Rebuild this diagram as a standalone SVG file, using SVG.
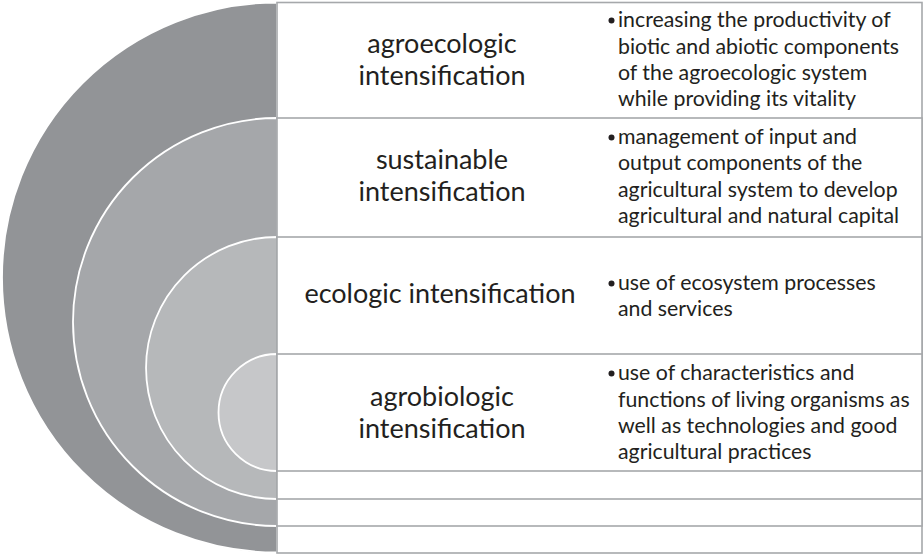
<svg xmlns="http://www.w3.org/2000/svg" width="924" height="556" viewBox="0 0 924 556">
<style>
.ring{stroke:#ffffff;stroke-width:1.8}
.box{fill:#ffffff;stroke:#a6a8ab;stroke-width:1.6}
.lbl{font-family:Lato,"Liberation Sans",sans-serif;font-size:27px;fill:#231f20;text-anchor:middle}
.desc{font-family:Lato,"Liberation Sans",sans-serif;font-size:21.3px;fill:#231f20}
.dot{fill:#231f20}
</style>
<rect width="924" height="556" fill="#ffffff"/>
<g id="rings">
<path class="ring" d="M277 2.5 A275 275 0 0 0 277 552.5 Z" fill="#929497"/>
<path class="ring" d="M277 118 A204 204 0 0 0 277 526 Z" fill="#a5a7aa"/>
<path class="ring" d="M277 237 A131 131 0 0 0 277 499 Z" fill="#b6b8ba"/>
<path class="ring" d="M277 354 A58.5 58.5 0 0 0 277 471 Z" fill="#c6c7c9"/>
</g>
<g id="node1">
<rect class="box" x="277" y="2.5" width="645" height="550.5"/>
<text class="lbl"><tspan x="442" y="53">agroecologic</tspan><tspan x="442" y="85">intensification</tspan></text>
<circle class="dot" cx="611.5" cy="20.5" r="3"/>
<text class="desc"><tspan x="618" y="27">increasing the productivity of</tspan><tspan x="618" y="53.5">biotic and abiotic components</tspan><tspan x="618" y="80">of the agroecologic system</tspan><tspan x="618" y="106">while providing its vitality</tspan></text>
</g>
<g id="node2">
<rect class="box" x="277" y="118" width="645" height="408"/>
<text class="lbl"><tspan x="442" y="169">sustainable</tspan><tspan x="442" y="201">intensification</tspan></text>
<circle class="dot" cx="611.5" cy="137.5" r="3"/>
<text class="desc"><tspan x="618" y="144">management of input and</tspan><tspan x="618" y="170">output components of the</tspan><tspan x="618" y="197">agricultural system to develop</tspan><tspan x="618" y="223">agricultural and natural capital</tspan></text>
</g>
<g id="node3">
<rect class="box" x="277" y="237" width="645" height="262"/>
<text class="lbl"><tspan x="440" y="303">ecologic intensification</tspan></text>
<circle class="dot" cx="611.5" cy="283.5" r="3"/>
<text class="desc"><tspan x="618" y="290">use of ecosystem processes</tspan><tspan x="618" y="316">and services</tspan></text>
</g>
<g id="node4">
<rect class="box" x="277" y="354" width="645" height="117"/>
<text class="lbl"><tspan x="442" y="406">agrobiologic</tspan><tspan x="442" y="438">intensification</tspan></text>
<circle class="dot" cx="611.5" cy="373.5" r="3"/>
<text class="desc"><tspan x="618" y="380">use of characteristics and</tspan><tspan x="618" y="407">functions of living organisms as</tspan><tspan x="618" y="433">well as technologies and good</tspan><tspan x="618" y="459">agricultural practices</tspan></text>
</g>
<g id="connectors"/>
</svg>
